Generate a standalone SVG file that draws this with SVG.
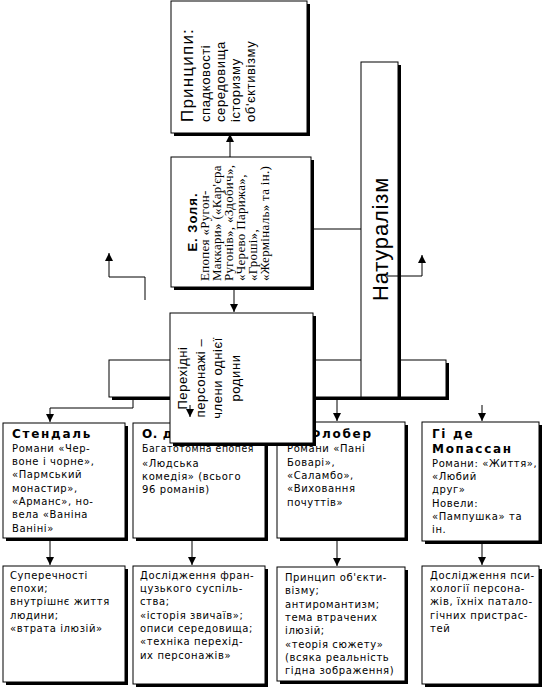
<svg xmlns="http://www.w3.org/2000/svg" width="544" height="689" viewBox="0 0 544 689">
<defs>
<marker id="ah" viewBox="0 0 8 8" refX="8" refY="4" markerWidth="8" markerHeight="8" markerUnits="userSpaceOnUse" orient="auto">
<path d="M0,0 L8,4 L0,8 Z" fill="#000"/>
</marker>
<style>
.bx{fill:#fff;stroke:#000;stroke-width:1}
.sh{fill:#000}
.ln{fill:none;stroke:#000;stroke-width:1}
.ar{fill:none;stroke:#000;stroke-width:1;marker-end:url(#ah)}
.t{font-family:"DejaVu Sans",sans-serif;font-size:10px;letter-spacing:0.6px;fill:#000}
.tb{font-family:"DejaVu Sans",sans-serif;font-size:12px;font-weight:bold;letter-spacing:1.7px;fill:#000}
.rs{font-family:"Liberation Sans",Arial,sans-serif;font-size:13px;letter-spacing:0.6px;fill:#000}
.zs{font-family:"Liberation Serif",serif;font-size:13px;letter-spacing:0.3px;fill:#000}
</style>
</defs>
<rect width="544" height="689" fill="#fff"/>

<g id="bus">
<rect class="sh" x="112" y="363" width="337" height="37"/>
<rect class="bx" x="109" y="360" width="337" height="37"/>
</g>

<g id="principles">
<rect class="sh" x="174" y="4" width="136" height="132"/>
<rect class="bx" x="171" y="1" width="136" height="132"/>
<g class="rs">
<text transform="translate(193,122) rotate(-90)" style="font-size:17px;letter-spacing:1.2px">Принципи:</text>
<text transform="translate(210,122) rotate(-90)">спадковості</text>
<text transform="translate(225,122) rotate(-90)">середовища</text>
<text transform="translate(240,122) rotate(-90)">історизму</text>
<text transform="translate(255,122) rotate(-90)">об'єктивізму</text>
</g>
</g>

<g id="zola">
<rect class="sh" x="174" y="160" width="140" height="130"/>
<rect class="bx" x="171" y="157" width="140" height="130"/>
<text transform="translate(197,222) rotate(-90)" text-anchor="middle" style="font-family:'Liberation Sans',Arial,sans-serif;font-size:13px;font-weight:bold;letter-spacing:1px">Е. Золя.</text>
<g class="zs">
<text transform="translate(209,281) rotate(-90)">Епопея «Ругон-</text>
<text transform="translate(221,281) rotate(-90)">Маккари» («Кар'єра</text>
<text transform="translate(233,281) rotate(-90)">Ругонів», «Здобич»,</text>
<text transform="translate(245,281) rotate(-90)">«Черево Парижа»,</text>
<text transform="translate(257,281) rotate(-90)">«Гроші»,</text>
<text transform="translate(269,281) rotate(-90)">«Жерміналь» та ін.)</text>
</g>
</g>

<g id="naturalism">
<rect class="sh" x="364" y="65" width="37" height="335"/>
<rect class="bx" x="361" y="62" width="37" height="335"/>
<text transform="translate(388,239) rotate(-90)" text-anchor="middle" style="font-family:'Liberation Sans',Arial,sans-serif;font-size:22px;letter-spacing:0.8px">Натуралізм</text>
</g>

<g id="stendhal">
<rect class="sh" x="6" y="426" width="122" height="115"/>
<rect class="bx" x="3" y="423" width="122" height="115"/>
<text class="tb" x="12" y="438">Стендаль</text>
<g class="t">
<text x="12" y="452">Романи «Чер-</text>
<text x="12" y="465">воне і чорне»,</text>
<text x="12" y="478">«Пармський</text>
<text x="12" y="492">монастир»,</text>
<text x="12" y="505">«Арманс», но-</text>
<text x="12" y="518">вела «Ваніна</text>
<text x="12" y="532">Ваніні»</text>
</g>
</g>

<g id="balzac">
<rect class="sh" x="136" y="426" width="132" height="115"/>
<rect class="bx" x="133" y="423" width="132" height="115"/>
<text class="tb" x="142" y="438" style="letter-spacing:0.6px">О. де Бальзак</text>
<g class="t">
<text x="142" y="452" textLength="112" lengthAdjust="spacingAndGlyphs">Багатотомна епопея</text>
<text x="142" y="467">«Людська</text>
<text x="142" y="480">комедія» (всього</text>
<text x="142" y="493">96 романів)</text>
</g>
</g>

<g id="flaubert">
<rect class="sh" x="280" y="425" width="128" height="116"/>
<rect class="bx" x="277" y="422" width="128" height="116"/>
<text class="tb" x="287" y="438">Г. Флобер</text>
<g class="t">
<text x="287" y="452">Романи «Пані</text>
<text x="287" y="466">Боварі»,</text>
<text x="287" y="479">«Саламбо»,</text>
<text x="287" y="492">«Виховання</text>
<text x="287" y="506">почуттів»</text>
</g>
</g>

<g id="maupassant">
<rect class="sh" x="425" y="425" width="117" height="119"/>
<rect class="bx" x="422" y="422" width="117" height="119"/>
<g class="tb">
<text x="432" y="438">Гі де</text>
<text x="432" y="453">Мопассан</text>
</g>
<g class="t">
<text x="432" y="467">Романи: «Життя»,</text>
<text x="432" y="480">«Любий</text>
<text x="432" y="493">друг»</text>
<text x="432" y="507">Новели:</text>
<text x="432" y="520">«Пампушка» та</text>
<text x="432" y="533">ін.</text>
</g>
</g>

<g id="transitional">
<rect class="sh" x="173" y="316" width="143" height="130"/>
<rect class="bx" x="170" y="313" width="143" height="130"/>
<g class="rs" text-anchor="middle">
<text transform="translate(187,378) rotate(-90)">Перехідні</text>
<text transform="translate(205,378) rotate(-90)">персонажі –</text>
<text transform="translate(222,378) rotate(-90)">члени однієї</text>
<text transform="translate(240,378) rotate(-90)">родини</text>
</g>
</g>

<g id="stendhal-notes">
<rect class="sh" x="6" y="569" width="122" height="116"/>
<rect class="bx" x="3" y="566" width="122" height="116"/>
<g class="t">
<text x="10" y="579">Суперечності</text>
<text x="10" y="592">епохи;</text>
<text x="10" y="605">внутрішнє життя</text>
<text x="10" y="619">людини;</text>
<text x="10" y="632">«втрата ілюзій»</text>
</g>
</g>

<g id="balzac-notes">
<rect class="sh" x="136" y="569" width="132" height="118"/>
<rect class="bx" x="133" y="566" width="132" height="118"/>
<g class="t">
<text x="140" y="579">Дослідження фран-</text>
<text x="140" y="592">цузького суспіль-</text>
<text x="140" y="605">ства;</text>
<text x="140" y="619">«історія звичаїв»;</text>
<text x="140" y="632">описи середовища;</text>
<text x="140" y="645">«техніка перехід-</text>
<text x="140" y="659">их персонажів»</text>
</g>
</g>

<g id="flaubert-notes">
<rect class="sh" x="280" y="570" width="128" height="114"/>
<rect class="bx" x="277" y="567" width="128" height="114"/>
<g class="t">
<text x="285" y="581">Принцип об'єкти-</text>
<text x="285" y="594">візму;</text>
<text x="285" y="608">антиромантизм;</text>
<text x="285" y="621">тема втрачених</text>
<text x="285" y="634">ілюзій;</text>
<text x="285" y="648">«теорія сюжету»</text>
<text x="285" y="661">(всяка реальність</text>
<text x="285" y="674">гідна зображення)</text>
</g>
</g>

<g id="maupassant-notes">
<rect class="sh" x="425" y="569" width="117" height="118"/>
<rect class="bx" x="422" y="566" width="117" height="118"/>
<g class="t">
<text x="430" y="579">Дослідження пси-</text>
<text x="430" y="592">хології персона-</text>
<text x="430" y="605">жів, їхніх патало-</text>
<text x="430" y="619">гічних пристрас-</text>
<text x="430" y="632">тей</text>
</g>
</g>

<g id="connectors">
<path class="ar" d="M230,157 V134"/>
<path class="ar" d="M234,290 V312"/>
<path class="ln" d="M314,229 H361"/>
<path class="ar" d="M145,300 V277 H109 V253"/>
<path class="ar" d="M387,276 H422 V255"/>
<path class="ar" d="M133,400 V408 H50 V422"/>
<path class="ar" d="M190,405 V417"/>
<path class="ar" d="M337,400 V421"/>
<path class="ar" d="M482,405 V421"/>
<path class="ar" d="M50,541 V565"/>
<path class="ar" d="M192,541 V565"/>
<path class="ar" d="M337,541 V566"/>
<path class="ar" d="M482,544 V565"/>
</g>
</svg>
